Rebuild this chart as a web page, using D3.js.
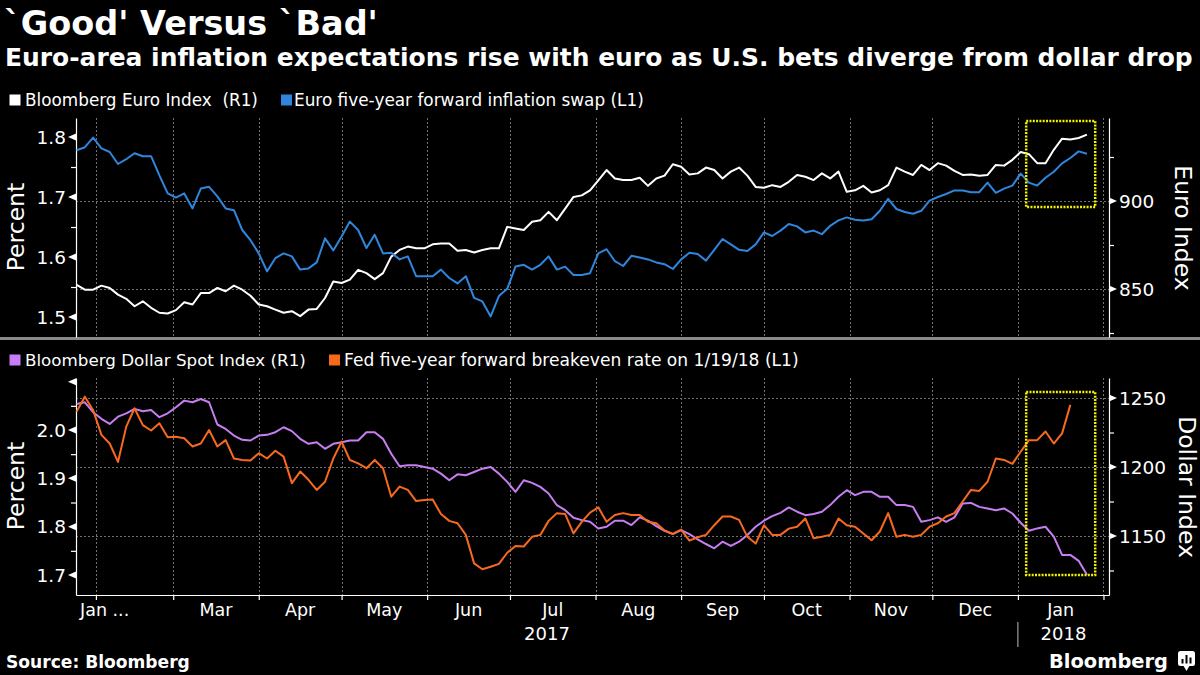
<!DOCTYPE html>
<html><head><meta charset="utf-8">
<script src="https://cdn.jsdelivr.net/npm/d3@7"></script>
<style>
body{margin:0;background:#000;}
svg{display:block;background:#000;}
text{font-family:"DejaVu Sans",sans-serif;fill:#fff;white-space:pre;}
</style>
</head><body>
<svg id="c" width="1200" height="675"></svg>
<script>
// ---------------- DATA ----------------
const titleText = "`Good' Versus `Bad'";
const subtitleText = "Euro-area inflation expectations rise with euro as U.S. bets diverge from dollar drop";
const legendTop = ["Bloomberg Euro Index  (R1)", "Euro five-year forward inflation swap (L1)"];
const legendBottom = ["Bloomberg Dollar Spot Index (R1)", "Fed five-year forward breakeven rate on 1/19/18 (L1)"];
const sourceText = "Source: Bloomberg";

// sampled every 3 calendar days starting 2017-01-25
const sampleStart = new Date(2017, 0, 25);
const sampleStepDays = 3;

const euroIndex = [
852.4,849.6,849.6,851.9,850.6,846.8,844.4,840.2,843.0,839.3,
836.5,836.1,838.0,842.5,841.2,847.7,847.7,850.6,848.7,851.9,
849.6,846.2,841.2,840.2,838.3,836.5,837.4,834.6,838.3,838.7,
844.9,854.3,853.4,855.3,860.9,859.0,855.6,859.0,868.4,872.2,
874.1,873.1,873.1,875.4,875.9,875.9,871.8,872.2,870.7,872.2,
873.1,873.1,885.3,884.4,883.5,888.2,889.1,893.8,889.1,895.7,
902.3,903.2,906.0,911.7,917.6,912.8,911.9,911.9,913.2,908.6,
912.8,914.4,920.9,919.5,915.1,915.7,919.0,917.6,912.8,916.7,
919.0,914.4,908.0,907.5,909.0,908.0,910.9,914.8,913.8,911.9,
915.7,912.8,916.7,905.2,906.1,908.6,904.8,906.1,909.0,919.0,
916.7,914.8,920.5,917.6,921.5,920.1,917.1,914.8,915.1,914.4,
914.8,920.5,920.1,923.4,927.8,926.6,921.5,921.5,929.1,935.4,
934.9,935.8,937.7];

const euroSwap = [
1.778,1.783,1.799,1.781,1.775,1.755,1.763,1.773,1.768,1.768,
1.736,1.706,1.699,1.706,1.681,1.714,1.717,1.701,1.681,1.678,
1.645,1.628,1.606,1.576,1.598,1.606,1.601,1.579,1.581,1.591,
1.631,1.611,1.634,1.659,1.645,1.615,1.637,1.606,1.607,1.596,
1.601,1.568,1.568,1.568,1.579,1.565,1.556,1.568,1.532,1.526,
1.501,1.535,1.547,1.584,1.587,1.579,1.587,1.601,1.579,1.584,
1.570,1.570,1.573,1.606,1.613,1.593,1.585,1.602,1.599,1.596,
1.591,1.588,1.580,1.596,1.607,1.605,1.594,1.612,1.630,1.621,
1.612,1.610,1.621,1.641,1.635,1.644,1.655,1.651,1.641,1.644,
1.638,1.652,1.661,1.666,1.662,1.661,1.663,1.677,1.697,1.680,
1.675,1.672,1.677,1.694,1.700,1.705,1.711,1.711,1.708,1.708,
1.724,1.707,1.714,1.719,1.739,1.724,1.719,1.732,1.742,1.756,
1.765,1.776,1.772];

const dollarIndex = [
1245.7,1246.9,1239.7,1234.9,1231.2,1236.5,1238.9,1242.1,1240.4,1241.3,
1236.1,1238.9,1243.3,1248.1,1246.9,1249.3,1246.9,1230.8,1227.6,1222.8,
1219.7,1219.2,1222.8,1223.3,1225.2,1228.8,1226.0,1220.4,1216.8,1218.0,
1213.2,1216.8,1218.0,1219.2,1219.2,1225.2,1225.2,1220.4,1209.6,1200.5,
1201.2,1201.2,1200.0,1198.8,1195.2,1190.4,1194.7,1194.0,1196.4,1198.8,
1200.0,1195.2,1189.2,1182.0,1190.4,1188.5,1185.6,1180.8,1172.3,1168.7,
1163.2,1161.5,1160.3,1155.5,1156.7,1161.1,1161.1,1157.9,1163.5,1161.1,
1157.2,1153.8,1151.4,1154.3,1151.4,1147.6,1144.2,1141.1,1145.9,1142.8,
1145.9,1150.7,1156.7,1161.1,1164.4,1166.8,1170.7,1167.6,1165.1,1165.9,
1167.6,1172.4,1178.4,1183.2,1179.6,1182.0,1182.0,1178.4,1178.4,1172.4,
1172.4,1171.1,1160.3,1161.5,1163.5,1160.3,1163.5,1173.5,1174.0,1171.1,
1170.0,1168.7,1170.0,1166.3,1159.6,1153.8,1155.5,1156.7,1149.5,1136.3,
1136.3,1132.0,1122.0];

const fedBreakeven = [
2.038,2.069,2.041,1.990,1.972,1.934,2.007,2.045,2.010,1.999,
2.014,1.985,1.986,1.983,1.966,1.972,2.000,1.966,1.979,1.941,
1.938,1.937,1.952,1.941,1.957,1.945,1.890,1.914,1.897,1.876,
1.893,1.941,1.976,1.938,1.931,1.921,1.938,1.921,1.862,1.883,
1.876,1.853,1.855,1.856,1.826,1.812,1.807,1.783,1.724,1.712,
1.717,1.723,1.746,1.760,1.759,1.779,1.783,1.812,1.828,1.826,
1.786,1.810,1.829,1.840,1.810,1.824,1.828,1.824,1.824,1.810,
1.807,1.792,1.785,1.794,1.771,1.778,1.783,1.803,1.821,1.821,
1.814,1.779,1.765,1.803,1.783,1.783,1.796,1.800,1.817,1.776,
1.779,1.783,1.817,1.803,1.800,1.786,1.772,1.790,1.828,1.779,
1.783,1.779,1.783,1.800,1.807,1.821,1.828,1.852,1.876,1.874,
1.893,1.941,1.938,1.930,1.955,1.979,1.979,1.997,1.972,1.993,
2.052];

const monthLabels = ["Mar","Apr","May","Jun","Jul","Aug","Sep","Oct","Nov","Dec","Jan"];
const firstMonthLabel = "Jan ...";
const yearLabels = ["2017","2018"];

const topLeftMajor = [1.5,1.6,1.7,1.8], topLeftMinor = [1.55,1.65,1.75];
const topRightMajor = [850,900], topRightMinor = [825,875,925];
const botLeftMajor = [1.7,1.8,1.9,2.0], botLeftUnlabeled = [2.1], botLeftMinor = [1.75,1.85,1.95,2.05];
const botRightMajor = [1150,1200,1250], botRightMinor = [1125,1175,1225];

// highlighted window (annotation boxes)
const highlightDates = [new Date(2018,0,4), new Date(2018,0,29)];
const highlightTopRange = [896.6, 945.5];
const highlightBotRange = [1121.7, 1254.3];

// ---------------- LAYOUT ----------------
const svg = d3.select("#c");
const L = 76, R = 1109;
const top0 = 118, top1 = 337, bot0 = 378, bot1 = 595;
const C = {white:"#ffffff", blue:"#2f86dc", purple:"#c77ef2", orange:"#f76a1e", grid:"#707070", yellow:"#f2f200"};

const x = d3.scaleTime().domain([new Date(2017,0,24,19), new Date(2018,1,3)]).range([L, R]);
const yTL = d3.scaleLinear().domain([1.46667, 1.83167]).range([top1, top0]);
const yTR = d3.scaleLinear().domain([822.73, 947.16]).range([top1, top0]);
const yBL = d3.scaleLinear().domain([1.65862, 2.10759]).range([bot1, bot0]);
const yBR = d3.scaleLinear().domain([1107.25, 1264.49]).range([bot1, bot0]);

const dates = d3.range(euroIndex.length).map(i => d3.timeDay.offset(sampleStart, i*sampleStepDays));
const monthStarts = d3.timeMonth.range(new Date(2017,1,1), new Date(2018,1,2));

function fit(sel, w){
  const len = sel.node().getComputedTextLength();
  const fs = parseFloat(sel.attr("font-size"));
  sel.attr("font-size", fs*w/len);
  return sel;
}

// Titles
fit(svg.append("text").attr("x",4).attr("y",35).attr("font-size",32).attr("font-weight","bold").text(titleText), 374);
fit(svg.append("text").attr("x",5).attr("y",66).attr("font-size",21).attr("font-weight","bold").text(subtitleText), 1188);

// Legends
function legend(y, items, colors, xs, widths){
  items.forEach((t,i)=>{
    svg.append("rect").attr("x",xs[i][0]).attr("y",y-5.5).attr("width",11).attr("height",11).attr("fill",colors[i]);
    fit(svg.append("text").attr("x",xs[i][1]).attr("y",y).attr("dy","0.36em").attr("font-size",15.5).text(t), widths[i]);
  });
}
legend(100, legendTop, [C.white, C.blue], [[9.5,25],[281,294]], [233,350]);
legend(360, legendBottom, [C.purple, C.orange], [[9.5,25],[329,344]], [281,455]);

// separator
svg.append("rect").attr("x",0).attr("y",337).attr("width",1200).attr("height",3).attr("fill","#8a8a8a");

// Grids
function grids(y0, y1, yScale, vals){
  const g = svg.append("g").attr("stroke",C.grid).attr("stroke-width",1).attr("stroke-dasharray","2,2").attr("fill","none");
  g.selectAll("line.v").data(monthStarts).join("line").attr("x1",d=>Math.round(x(d))+0.5).attr("x2",d=>Math.round(x(d))+0.5).attr("y1",y0).attr("y2",y1);
  g.selectAll("line.h").data(vals).join("line").attr("x1",L).attr("x2",R).attr("y1",d=>Math.round(yScale(d))+0.5).attr("y2",d=>Math.round(yScale(d))+0.5);
}
grids(top0, top1, yTR, topRightMajor);
grids(bot0, bot1, yBR, botRightMajor);

// Axes
function yAxes(yL, yR, lMaj, lMin, lUnl, rMaj, rMin, fmtL){
  const gl = svg.append("g").attr("transform",`translate(${L},0)`)
    .call(d3.axisLeft(yL).tickValues(lMin).tickSize(5).tickSizeOuter(0).tickFormat(""));
  const gr = svg.append("g").attr("transform",`translate(${R},0)`)
    .call(d3.axisRight(yR).tickValues(rMin).tickSize(5).tickSizeOuter(0).tickFormat(""));
  [gl,gr].forEach(g=>{g.selectAll("path,line").attr("stroke","#fff").attr("stroke-width",1.2);});
  lMaj.concat(lUnl).forEach(v=>{
    const yy = yL(v);
    svg.append("path").attr("d",`M${L},${yy-3.5}L${L},${yy+3.5}L${L-8},${yy}Z`).attr("fill","#fff");
  });
  lMaj.forEach(v=>{
    svg.append("text").attr("x",66).attr("y",yL(v)).attr("dy","0.36em").attr("text-anchor","end").attr("font-size",18.5).text(fmtL(v));
  });
  rMaj.forEach(v=>{
    const yy = yR(v);
    svg.append("path").attr("d",`M${R},${yy-3.5}L${R},${yy+3.5}L${R+8},${yy}Z`).attr("fill","#fff");
    svg.append("text").attr("x",1119).attr("y",yy).attr("dy","0.36em").attr("font-size",18.5).text(v);
  });
}
yAxes(yTL, yTR, topLeftMajor, topLeftMinor, [], topRightMajor, topRightMinor, d3.format(".1f"));
yAxes(yBL, yBR, botLeftMajor, botLeftMinor, botLeftUnlabeled, botRightMajor, botRightMinor, d3.format(".1f"));

// axis titles
function rot(xc, yc, angle, t){
  svg.append("text").attr("transform",`translate(${xc},${yc}) rotate(${angle})`).attr("text-anchor","middle").attr("dy","0.36em").attr("font-size",23.5).text(t);
}
rot(16, 227, -90, "Percent");
rot(16, 486, -90, "Percent");
rot(1183, 228, 90, "Euro Index");
rot(1187, 487, 90, "Dollar Index");

// X axis
const gx = svg.append("g").attr("transform",`translate(0,${bot1})`)
  .call(d3.axisBottom(x).tickValues(monthStarts).tickSize(5).tickSizeOuter(0).tickFormat(""));
gx.selectAll("path,line").attr("stroke","#fff").attr("stroke-width",1.2);

const labelMonths = d3.timeMonth.range(new Date(2017,2,1), new Date(2018,1,1));
labelMonths.forEach((m,i)=>{
  const mid = new Date((+m + +d3.timeMonth.offset(m,1))/2);
  svg.append("text").attr("x",x(mid)).attr("y",616).attr("text-anchor","middle").attr("font-size",17.5).text(monthLabels[i]);
});
svg.append("text").attr("x",80).attr("y",616).attr("font-size",17.5).text(firstMonthLabel);
svg.append("text").attr("x",(L + x(new Date(2018,0,1)))/2).attr("y",640).attr("text-anchor","middle").attr("font-size",18).text(yearLabels[0]);
svg.append("text").attr("x",(x(new Date(2018,0,1)) + R)/2).attr("y",640).attr("text-anchor","middle").attr("font-size",18).text(yearLabels[1]);
svg.append("line").attr("x1",x(new Date(2018,0,1))).attr("x2",x(new Date(2018,0,1))).attr("y1",622).attr("y2",647).attr("stroke","#bbb").attr("stroke-width",1);

// Lines
function drawLine(vals, yScale, color){
  const data = vals.map((v,i)=>({d:dates[i], v}));
  svg.append("path").datum(data).attr("fill","none").attr("stroke",color).attr("stroke-width",2)
    .attr("stroke-linejoin","round")
    .attr("d", d3.line().x(p=>x(p.d)).y(p=>yScale(p.v)));
}
drawLine(euroIndex, yTR, C.white);
drawLine(euroSwap, yTL, C.blue);
drawLine(dollarIndex, yBR, C.purple);
drawLine(fedBreakeven, yBL, C.orange);

// Highlight boxes
function box(yScale, range){
  const x0 = x(highlightDates[0]), x1 = x(highlightDates[1]);
  const y0 = yScale(range[1]), y1 = yScale(range[0]);
  svg.append("rect").attr("x",x0).attr("y",y0).attr("width",x1-x0).attr("height",y1-y0)
    .attr("fill","none").attr("stroke",C.yellow).attr("stroke-width",2.5).attr("stroke-dasharray","2,1.3");
}
box(yTR, highlightTopRange);
box(yBR, highlightBotRange);

// Footer
fit(svg.append("text").attr("x",6).attr("y",668).attr("font-size",17).attr("font-weight","bold").text(sourceText), 184);
fit(svg.append("text").attr("x",1049).attr("y",668).attr("font-size",24).attr("font-weight","bold").text("Bloomberg"), 119);
const icon = svg.append("g");
icon.append("rect").attr("x",1178).attr("y",651).attr("width",17).attr("height",15).attr("rx",2.5).attr("fill","#fff");
icon.append("path").attr("d","M1183,665L1190,665L1186.5,671Z").attr("fill","#fff");
icon.append("rect").attr("x",1181.5).attr("y",659).attr("width",2).attr("height",4.5).attr("fill","#000");
icon.append("rect").attr("x",1185.5).attr("y",655).attr("width",2).attr("height",8.5).attr("fill","#000");
icon.append("rect").attr("x",1189.5).attr("y",657.5).attr("width",2).attr("height",6).attr("fill","#000");
</script>
</body></html>
